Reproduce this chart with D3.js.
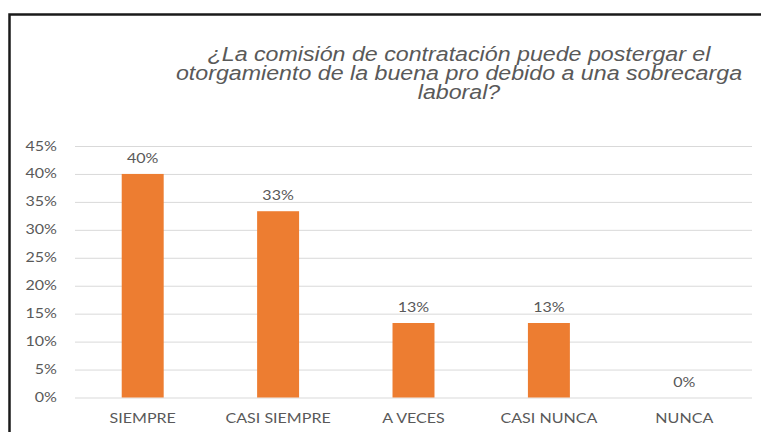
<!DOCTYPE html>
<html><head><meta charset="UTF-8">
<title>¿La comisión de contratación puede postergar el otorgamiento...?</title>
<script src="https://cdn.jsdelivr.net/npm/d3@7"></script>
<style>
  body { margin: 0; background: #fff; }
  svg { display: block; }
  .grid line { stroke: #d9d9d9; stroke-width: 1; }
  .grid path { display: none; }
  .lbl { fill: #595959; font-family: Lato, "Open Sans", sans-serif; font-size: 13.5px; }
  .title { fill: #595959; font-family: "Liberation Sans", Arial, sans-serif; font-style: italic; font-size: 19.5px; }
</style>
</head>
<body>
<svg width="761" height="432"></svg>
<script>
// data
var categories = ["SIEMPRE", "CASI SIEMPRE", "A VECES", "CASI NUNCA", "NUNCA"];
var values = [0.40, 0.3333, 0.1333, 0.1333, 0];
var yTicks = [0, 0.05, 0.10, 0.15, 0.20, 0.25, 0.30, 0.35, 0.40, 0.45];
var titleLines = ["¿La comisión de contratación puede postergar el",
                  "otorgamiento de la buena pro debido a una sobrecarga",
                  "laboral?"];

//begin: layout conf.
var plotLeft = 75, plotRight = 752, plotTop = 146, plotBottom = 397.5,
    stretch = 1.19; // text in the picture is wider than normal
//end: layout conf.

var svg = d3.select("svg");
var pct = d3.format(".0%");

var x = d3.scaleBand().domain(categories).range([plotLeft, plotRight])
  .paddingInner(0.69).paddingOuter(0.345);
var y = d3.scaleLinear().domain([0, 0.45]).range([plotBottom, plotTop]);

// frame (only top and left edges are visible)
svg.append("path")
  .attr("d", "M9.5,432 V14.5 H761")
  .attr("fill", "none")
  .attr("stroke", "#1a1a1a")
  .attr("stroke-width", 2.5);

// title
svg.selectAll(".title")
  .data(titleLines)
  .enter().append("text")
    .attr("class", "title")
    .attr("text-anchor", "middle")
    .attr("transform", function(d, i){ return "translate(459," + (61 + i*19) + ") scale(" + stretch + ",1)"; })
    .text(function(d){ return d; });

// gridlines
svg.append("g")
  .attr("class", "grid")
  .attr("transform", "translate(" + plotLeft + ",0)")
  .call(d3.axisLeft(y).tickValues(yTicks).tickSize(-(plotRight - plotLeft)).tickFormat(""));

// y tick labels
svg.selectAll(".ytick")
  .data(yTicks)
  .enter().append("text")
    .attr("class", "lbl ytick")
    .attr("text-anchor", "end")
    .attr("transform", function(d){ return "translate(57," + (y(d) + 4.5) + ") scale(" + stretch + ",1)"; })
    .text(function(d){ return pct(d); });

// bars
svg.selectAll(".bar")
  .data(values)
  .enter().append("rect")
    .attr("class", "bar")
    .attr("x", function(d, i){ return x(categories[i]); })
    .attr("y", function(d){ return y(d); })
    .attr("width", x.bandwidth())
    .attr("height", function(d){ return y(0) - y(d); })
    .attr("fill", "#ed7d31");

// value labels
svg.selectAll(".val")
  .data(values)
  .enter().append("text")
    .attr("class", "lbl val")
    .attr("text-anchor", "middle")
    .attr("transform", function(d, i){
      return "translate(" + (x(categories[i]) + x.bandwidth()/2) + "," + (y(d) - 11) + ") scale(" + stretch + ",1)";
    })
    .text(function(d){ return pct(d); });

// category labels
svg.selectAll(".cat")
  .data(categories)
  .enter().append("text")
    .attr("class", "lbl cat")
    .attr("text-anchor", "middle")
    .attr("transform", function(d){ return "translate(" + (x(d) + x.bandwidth()/2) + ",423) scale(" + stretch + ",1)"; })
    .text(function(d){ return d; });
</script>
</body></html>
